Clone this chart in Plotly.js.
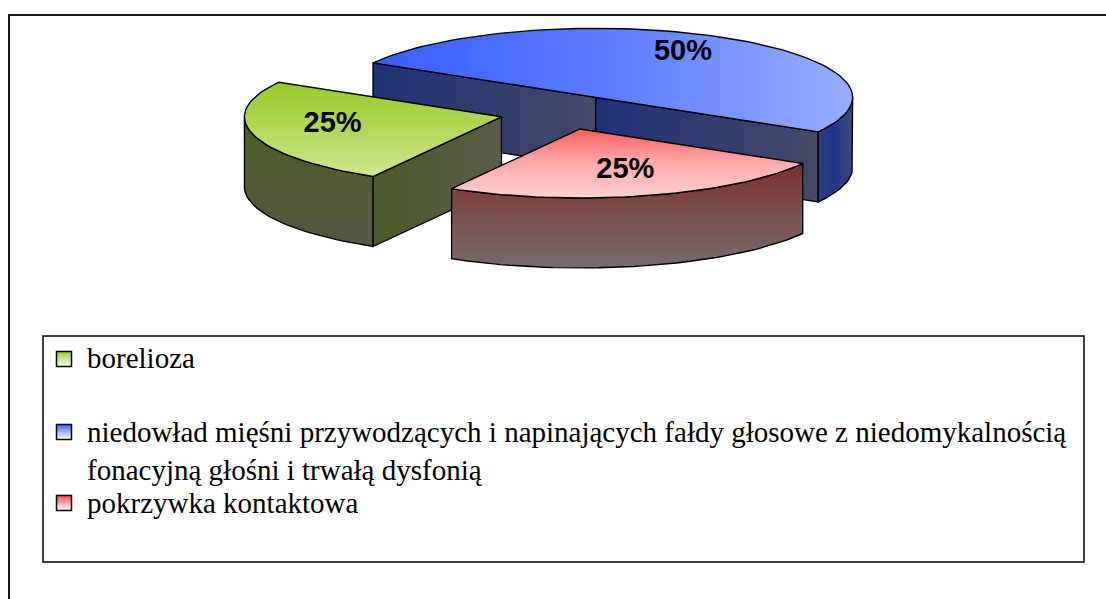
<!DOCTYPE html>
<html>
<head>
<meta charset="utf-8">
<script src="https://cdn.plot.ly/plotly-3.0.1.min.js"></script>
<style>html,body{margin:0;padding:0;background:#fff;overflow:hidden}</style>
</head>
<body>
<div id="chart" style="width:1106px;height:599px"></div>
<script>
// ---- data ----
const categories = [
  'borelioza',
  'niedowład mięśni przywodzących i napinających fałdy głosowe z niedomykalnością<br>fonacyjną głośni i trwałą dysfonią',
  'pokrzywka kontaktowa'
];
const values = [25, 50, 25];

// ---- styles (vertical scales listed top -> bottom on screen) ----
const topStyles = [
  {type: 'vertical', colorscale: [[0, '#98ca24'], [1, '#cee590']]},
  {type: 'horizontal', colorscale: [[0, '#3a5cff'], [0.5, '#5c7dff'], [1, '#97aeff']]},
  {type: 'vertical', colorscale: [[0, '#ff5a5a'], [0.45, '#ffa6a6'], [1, '#ffd0d0']]}
];
const rimStyles = [
  {type: 'vertical', colorscale: [[0, '#4b5f22'], [1, '#565644']]},
  {type: 'horizontal', colorscale: [[0, '#2f3f80'], [0.5, '#22378c'], [1, '#414a72']]},
  {type: 'vertical', colorscale: [[0, '#7c2e2e'], [0.5, '#7a5050'], [1, '#776b6b']]}
];
const cutStyles = [
  {type: 'horizontal', colorscale: [[0, '#4a5a2a'], [1, '#5a5c48']]},
  {type: 'horizontal', colorscale: [[0, '#1f3178'], [1, '#444a66']]},
  {type: 'horizontal', colorscale: [[0, '#7a3a3a'], [1, '#776b6b']]}
];
const legendColors = ['#9acd32', '#3d63ff', '#ff4d4d'];

const W = 1106, H = 599;
const CX = 563.5, CY = 112.3, RX = 257, RY = 69, DEPTH = 70, EXPLODE = 0.25;
const START = 240; // degrees, slices run clockwise
const LABEL_K = 0.68;

// legend layout (box, symbol column, text column, row centres)
const LEG_SYMBOL_X = 64, LEG_TEXT_X = 85;
const LEG_TEXT_Y = [357.7, 450.7, 502.7];
const LEG_SYMBOL_Y = [359, 432, 503];

const rad = d => d * Math.PI / 180;
function pt(tip, t, dz) {
  return [tip[0] + RX * Math.cos(rad(t)), tip[1] - RY * Math.sin(rad(t)) + dz];
}
function arc(tip, a, b, dz) {
  const n = Math.max(2, Math.ceil(Math.abs(b - a) / 2));
  const out = [];
  for (let j = 0; j <= n; j++) out.push(pt(tip, a + (b - a) * j / n, dz));
  return out;
}
function gradientOf(style) {
  if (style.type !== 'vertical') return {type: style.type, colorscale: style.colorscale};
  const cs = style.colorscale.map(([p, c]) => [1 - p, c]).reverse();
  return {type: 'vertical', colorscale: cs};
}
function poly(points, style) {
  const xs = points.map(p => p[0]), ys = points.map(p => p[1]);
  xs.push(xs[0]); ys.push(ys[0]);
  return {
    type: 'scatter', x: xs, y: ys, mode: 'lines', fill: 'toself',
    line: {color: '#000', width: 1.4},
    fillcolor: style.colorscale[0][1],
    fillgradient: gradientOf(style),
    showlegend: false, hoverinfo: 'skip'
  };
}

const total = values.reduce((a, b) => a + b, 0);
let cum = 0;
const slices = values.map((v, i) => {
  const frac = v / total;
  const t2 = START - cum * 360;
  const t1 = t2 - frac * 360;
  cum += frac;
  const mid = (t1 + t2) / 2;
  const tip = [CX + EXPLODE * RX * Math.cos(rad(mid)), CY - EXPLODE * RY * Math.sin(rad(mid))];
  return {i, t1, t2, mid, tip, frac};
});

const traces = [];
slices.slice().sort((a, b) => Math.sin(rad(b.mid)) - Math.sin(rad(a.mid))).forEach(s => {
  if (Math.cos(rad(s.t1)) > 1e-9) {
    const p = pt(s.tip, s.t1, 0), q = pt(s.tip, s.t1, DEPTH);
    traces.push(poly([s.tip, p, q, [s.tip[0], s.tip[1] + DEPTH]], cutStyles[s.i]));
  }
  if (Math.cos(rad(s.t2)) < -1e-9) {
    const p = pt(s.tip, s.t2, 0), q = pt(s.tip, s.t2, DEPTH);
    traces.push(poly([s.tip, p, q, [s.tip[0], s.tip[1] + DEPTH]], cutStyles[s.i]));
  }
  for (let k = -2; k <= 2; k++) {
    const lo = Math.max(s.t1, 180 + 360 * k), hi = Math.min(s.t2, 360 + 360 * k);
    if (hi > lo) {
      traces.push(poly(arc(s.tip, lo, hi, 0).concat(arc(s.tip, hi, lo, DEPTH)), rimStyles[s.i]));
    }
  }
  traces.push(poly([s.tip].concat(arc(s.tip, s.t1, s.t2, 0)), topStyles[s.i]));
});

// percentage labels
traces.push({
  type: 'scatter', mode: 'text',
  x: slices.map(s => s.tip[0] + LABEL_K * RX * Math.cos(rad(s.mid))),
  y: slices.map(s => s.tip[1] - LABEL_K * RY * Math.sin(rad(s.mid)) - 4),
  text: slices.map(s => '<b>' + Math.round(s.frac * 100) + '%</b>'),
  textposition: 'middle center',
  textfont: {family: 'Liberation Sans', size: 29, color: '#000'},
  showlegend: false, hoverinfo: 'skip'
});

// legend symbols
traces.push({
  type: 'scatter', mode: 'markers',
  x: categories.map(() => LEG_SYMBOL_X), y: LEG_SYMBOL_Y,
  marker: {symbol: 'square', size: 15, color: legendColors,
           gradient: {type: 'vertical', color: '#ffffff'},
           line: {color: '#000', width: 1.5}},
  showlegend: false, hoverinfo: 'skip'
});

const layout = {
  width: W, height: H,
  margin: {l: 0, r: 0, t: 0, b: 0},
  paper_bgcolor: '#fff', plot_bgcolor: '#fff',
  xaxis: {range: [0, W], visible: false, fixedrange: true},
  yaxis: {range: [H, 0], visible: false, fixedrange: true},
  showlegend: false,
  annotations: categories.map((c, i) => ({
    x: LEG_TEXT_X, y: LEG_TEXT_Y[i], xref: 'x', yref: 'y',
    xanchor: 'left', yanchor: 'middle', align: 'left', showarrow: false,
    text: c, font: {family: 'Liberation Serif', size: 29, color: '#000'}
  })),
  shapes: [
    {type: 'rect', xref: 'paper', yref: 'paper', x0: 9 / W, x1: 1.02, y0: -0.05, y1: 1 - 15 / H,
     line: {color: '#1a1a1a', width: 2}, layer: 'below'},
    {type: 'rect', xref: 'paper', yref: 'paper', x0: 43 / W, x1: 1084 / W, y0: 1 - 562 / H, y1: 1 - 336 / H,
     line: {color: '#000', width: 1.5}, layer: 'below'}
  ]
};

Plotly.newPlot('chart', traces, layout, {displayModeBar: false, responsive: false});
</script>
</body>
</html>
